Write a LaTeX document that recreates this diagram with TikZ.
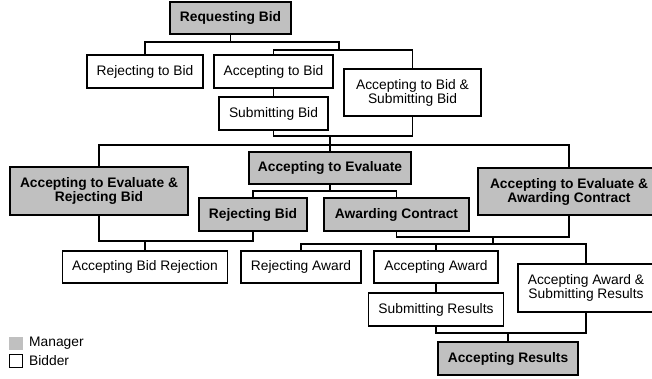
\documentclass[tikz,border=0pt]{standalone}
\usepackage{fontspec}
\setmainfont{Liberation Sans}
\definecolor{mgrgray}{RGB}{192,192,192}
\begin{document}
\begin{tikzpicture}[x=1bp,y=-1bp,
  box/.style={draw=black,line width=1.5bp,rectangle,inner sep=0pt,align=center,
    font=\fontsize{13.8bp}{12.7bp}\selectfont},
  mgr/.style={box,fill=mgrgray,font=\fontsize{13.8bp}{12.7bp}\selectfont\bfseries},
  bid/.style={box,fill=white},
  conn/.style={draw=black,line width=1.2bp},
  legtxt/.style={anchor=west,inner sep=0pt,font=\fontsize{13.8bp}{14bp}\selectfont}]
\useasboundingbox (0,0) rectangle (652,378);
\clip (0,0) rectangle (652,378);
% nodes
\node[mgr,minimum width=121bp,minimum height=32bp] (req) at (230.5,18) {Requesting Bid};
\node[bid,minimum width=116bp,minimum height=33bp] (rtb) at (145,71.5) {Rejecting to Bid};
\node[bid,minimum width=119bp,minimum height=33bp] (atb) at (273.5,71.5) {Accepting to Bid};
\node[bid,minimum width=109bp,minimum height=33bp] (sb) at (273.5,113.5) {Submitting Bid};
\node[bid,minimum width=137bp,minimum height=47bp] (asb) at (412.5,92.5) {Accepting to Bid \&\\Submitting Bid};
\node[mgr,minimum width=162bp,minimum height=32bp] (ate) at (330,168) {Accepting to Evaluate};
\node[mgr,minimum width=178bp,minimum height=48bp] (aterb) at (99,191) {Accepting to Evaluate \&\\Rejecting Bid};
\node[mgr,minimum width=108bp,minimum height=33bp] (rb) at (253,214.5) {Rejecting Bid};
\node[mgr,minimum width=145bp,minimum height=33bp] (ac) at (396.5,214.5) {Awarding Contract};
\node[mgr,minimum width=182bp,minimum height=47bp] (ateac) at (569,191.5) {Accepting to Evaluate \&\\Awarding Contract};
\node[bid,minimum width=165bp,minimum height=32bp] (abr) at (145,267) {Accepting Bid Rejection};
\node[bid,minimum width=120bp,minimum height=32bp] (ra) at (301,267) {Rejecting Award};
\node[bid,minimum width=124bp,minimum height=32bp] (aa) at (436,267) {Accepting Award};
\node[bid,minimum width=135bp,minimum height=33bp] (sr) at (436,309.5) {Submitting Results};
\node[bid,minimum width=136bp,minimum height=48bp] (aasr) at (586,288) {Accepting Award \&\\Submitting Results};
\node[mgr,minimum width=140bp,minimum height=33bp] (ar) at (508,358.5) {Accepting Results};
% junctions
\coordinate (j1) at (230.5,42);
\coordinate (j2) at (339,50);
\coordinate (j3) at (330,136);
\coordinate (j4) at (330,145);
\coordinate (j5) at (330,191);
\coordinate (j6) at (145,241);
\coordinate (j7) at (493,237);
\coordinate (j8) at (493,244);
\coordinate (j9) at (508,333);
% connectors
\draw[conn] (req.south) -- (j1);
\draw[conn] (rtb.north) |- (j1) -| (j2);
\draw[conn] (atb.north) |- (j2) -| (asb.north);
\draw[conn] (atb.south) -- (sb.north);
\draw[conn] (sb.south) |- (j3) -| (asb.south);
\draw[conn] (j3) -- (ate.north);
\draw[conn] (aterb.north) |- (j4) -| (ateac.north);
\draw[conn] (ate.south) -- (j5);
\draw[conn] (rb.north) |- (j5) -| (ac.north);
\draw[conn] (aterb.south) |- (j6) -| (rb.south);
\draw[conn] (j6) -- (abr.north);
\draw[conn] (ac.south) |- (j7) -| (ateac.south);
\draw[conn] (j7) -- (j8);
\draw[conn] (ra.north) |- (j8) -| (aasr.north);
\draw[conn] (aa.north) -- (aa.north |- j8);
\draw[conn] (aa.south) -- (sr.north);
\draw[conn] (sr.south) |- (j9) -| (aasr.south);
\draw[conn] (j9) -- (ar.north);
% legend
\node[rectangle,fill=mgrgray,minimum width=14bp,minimum height=13bp,inner sep=0pt] (lm) at (16,343) {};
\node[legtxt] (lmt) at (29,343) {Manager};
\node[rectangle,draw=black,line width=1.5bp,fill=white,minimum width=13bp,minimum height=13bp,inner sep=0pt] (lb) at (16,361) {};
\node[legtxt] (lbt) at (29,361) {Bidder};
\end{tikzpicture}
\end{document}
